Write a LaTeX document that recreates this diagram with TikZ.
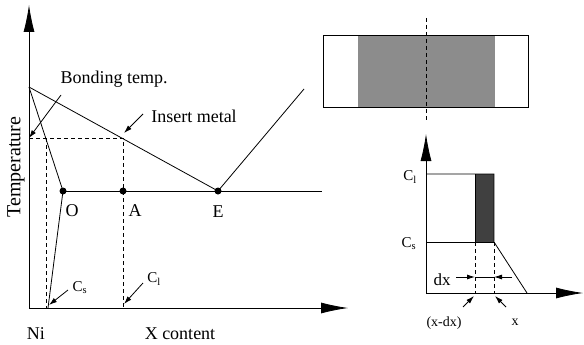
\documentclass[tikz,border=0pt]{standalone}
\usepackage{fontspec}
\setmainfont{Liberation Serif}
\usetikzlibrary{arrows.meta}
\begin{document}
\begin{tikzpicture}[x=1pt,y=-1pt, line width=0.8pt,
  axisarrow/.style={-{Latex[length=27pt,width=11pt]}},
  ptr/.style={-{Latex[length=8pt,width=5pt]}},
  dashln/.style={dash pattern=on 4pt off 3pt, line width=0.7pt},
  dot/.style={circle, fill, inner sep=0pt, minimum size=7pt},
  lbl/.style={font=\fontsize{18}{20}\selectfont, inner sep=0pt},
  clbl/.style={font=\fontsize{15}{17}\selectfont, inner sep=0pt},
  slbl/.style={font=\fontsize{14}{16}\selectfont, inner sep=0pt}]
\useasboundingbox (0,0) rectangle (584,345);
% ---------- phase diagram ----------
\coordinate (orig) at (29,308);
\coordinate (ytop) at (29,5);
\coordinate (xend) at (348,308);
\draw[axisarrow] (orig) -- (ytop);
\draw[axisarrow] (orig) -- (xend);
\coordinate (M) at (29,87);
\node[dot] (O) at (63,191) {};
\node[dot] (A) at (123,191) {};
\node[dot] (E) at (218,191) {};
\coordinate (Cs) at (48,308);
\coordinate (Cl) at (123,308);
\coordinate (Hend) at (322,191);
\coordinate (Etop) at (304,89);
\coordinate (BT) at (29,138);
\coordinate (L) at (123,138);
\coordinate (S) at (46,138);
\coordinate (Sb) at (46,308);
\draw (M) -- (E.center) -- (Etop);
\draw (M) -- (O.center) -- (Cs);
\draw (O.center) -- (Hend);
\draw[dashln] (BT) -- (L) -- (Cl);
\draw[dashln] (S) -- (Sb);
% labels
\node[lbl] (bt) at (114,79) {Bonding temp.};
\coordinate (bta) at (61,95);
\draw[ptr] (bta) -- (BT);
\node[lbl] (im) at (194,116) {Insert metal};
\coordinate (ima) at (143,114);
\coordinate (imt) at (124,133);
\draw[ptr] (ima) -- (imt);
\node[lbl] (lo) at (72,211) {O};
\node[lbl] (la) at (135,211) {A};
\node[lbl] (le) at (218,212) {E};
\node[lbl] (ni) at (36,334) {Ni};
\node[lbl] (xc) at (180,334) {X content};
\node[lbl, rotate=90, font=\fontsize{20}{22}\selectfont] (temp) at (16,167) {Temperature};
\node[clbl] (lcs) at (80,288) {C$_\mathrm{s}$};
\coordinate (csa) at (68,290);
\coordinate (cst) at (49,305);
\draw[ptr] (csa) -- (cst);
\node[clbl] (lcl) at (154,279) {C$_\mathrm{l}$};
\coordinate (cla) at (143,283);
\coordinate (clt) at (124,304);
\draw[ptr] (cla) -- (clt);
% ---------- specimen ----------
\fill[black!45] (358,35) rectangle (495,107);
\draw (323,35) rectangle (528,107);
\coordinate (ct) at (426,18);
\coordinate (cb) at (426,120);
\draw[dashln] (ct) -- (cb);
% ---------- concentration profile ----------
\coordinate (o2) at (426,293);
\coordinate (y2) at (426,134);
\coordinate (x2) at (583,293);
\draw[axisarrow] (o2) -- (y2);
\draw[axisarrow] (o2) -- (x2);
\fill[black!75] (475,174) rectangle (494,242);
\coordinate (p1) at (426,174);
\coordinate (p2) at (494,174);
\coordinate (p3) at (494,242);
\coordinate (p4) at (527,293);
\coordinate (q1) at (426,242);
\coordinate (q2) at (475,174);
\coordinate (q3) at (475,242);
\draw (p1) -- (p2) -- (p3) -- (p4);
\draw (q1) -- (p3);
\draw (q2) -- (q3);
\coordinate (d1) at (475,293);
\coordinate (d2) at (494,293);
\draw[dashln] (q3) -- (d1);
\draw[dashln] (p3) -- (d2);
\coordinate (dxl) at (456,277);
\coordinate (dxr) at (512,277);
\coordinate (dxa) at (475,277);
\coordinate (dxb) at (494,277);
\draw[ptr] (dxl) -- (dxa);
\draw[ptr] (dxr) -- (dxb);
\draw[line width=0.6pt] (dxa) -- (dxb);
\node[lbl, font=\fontsize{17}{19}\selectfont] (ldx) at (442,280) {dx};
\node[clbl] (lcl2) at (410,177) {C$_\mathrm{l}$};
\node[clbl] (lcs2) at (409,244) {C$_\mathrm{s}$};
\coordinate (u1) at (463,307);
\coordinate (u1t) at (474,296);
\coordinate (u2) at (506,307);
\coordinate (u2t) at (495,296);
\draw[ptr] (u1) -- (u1t);
\draw[ptr] (u2) -- (u2t);
\node[slbl] (lxdx) at (444,323) {(x-dx)};
\node[slbl] (lx) at (515,322) {x};
\end{tikzpicture}
\end{document}
